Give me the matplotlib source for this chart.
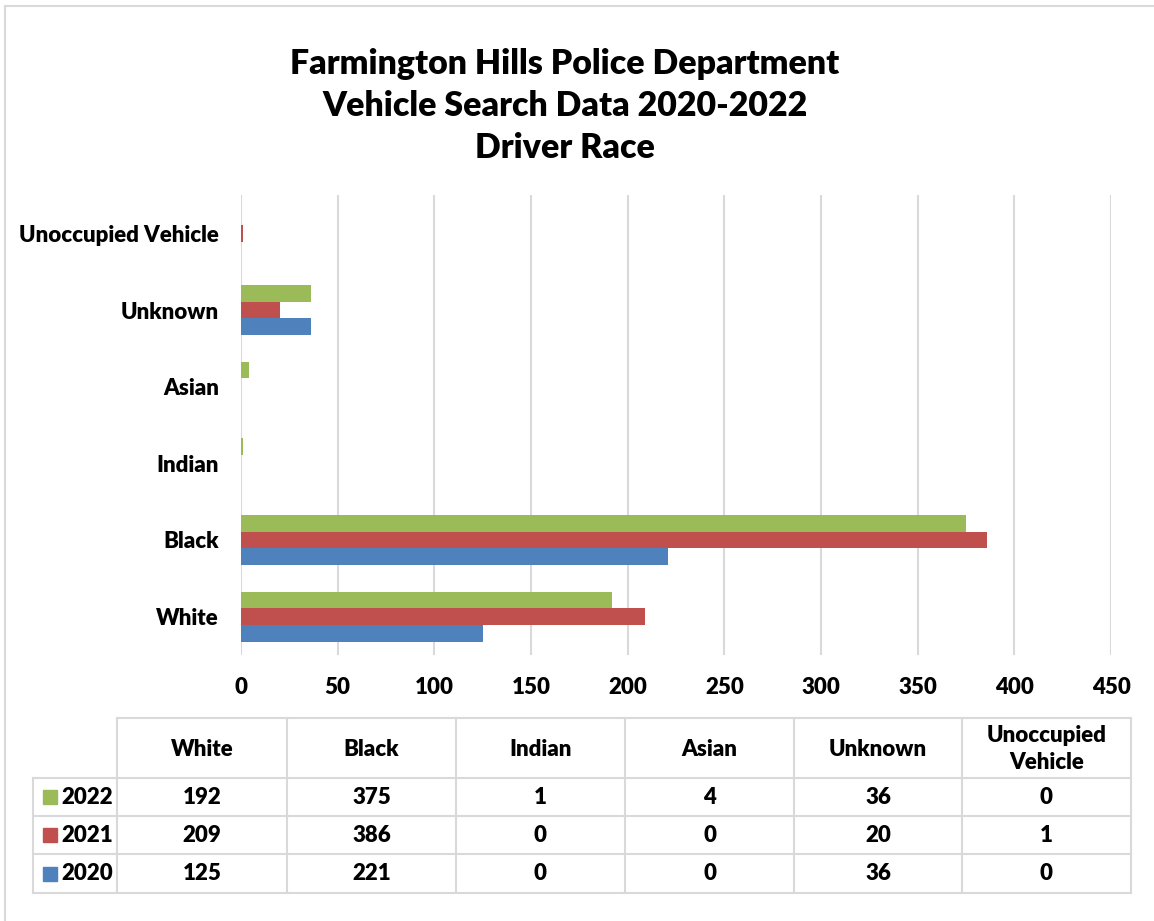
import matplotlib
matplotlib.use("Agg")
import matplotlib.pyplot as plt
from matplotlib.lines import Line2D
from matplotlib.patches import Rectangle
import numpy as np

plt.rcParams['font.family'] = ['Lato', 'DejaVu Sans']
plt.rcParams['font.weight'] = 'heavy'

categories = ["White", "Black", "Indian", "Asian", "Unknown", "Unoccupied Vehicle"]
table_headers = ["White", "Black", "Indian", "Asian", "Unknown", "Unoccupied\nVehicle"]
years = ["2020", "2021", "2022"]
vals_2020 = [125, 221, 0, 0, 36, 0]
vals_2021 = [209, 386, 0, 0, 20, 1]
vals_2022 = [192, 375, 1, 4, 36, 0]
colors = ["#4f81bd", "#c0504d", "#9bbb59"]
x_ticks = np.arange(0, 451, 50)

title = "Farmington Hills Police Department\nVehicle Search Data 2020-2022\nDriver Race"

W, H = 1154, 921
FW = 'heavy'
fig = plt.figure(figsize=(W / 100, H / 100), dpi=100)

# main bar chart
ax = fig.add_axes([241 / W, 1 - 655 / H, (1111 - 241) / W, (655 - 195) / H])
series = [vals_2020, vals_2021, vals_2022]
bh = 0.217
y = np.arange(len(categories))
for i, (vals, col) in enumerate(zip(series, colors)):
    ax.barh(y + (i - 1) * bh, vals, height=bh, color=col, zorder=3)

ax.set_xlim(0, 450)
ax.set_ylim(-0.5, len(categories) - 0.5)
ax.set_xticks(x_ticks)
ax.set_yticks(y)
ax.set_yticklabels(categories, fontweight=FW)
for t in ax.get_xticklabels():
    t.set_fontweight(FW)
ax.tick_params(axis='x', length=0, pad=16, labelsize=16)
ax.tick_params(axis='y', length=0, pad=16, labelsize=16)
for s in ax.spines.values():
    s.set_visible(False)
ax.grid(axis='x', color='#d9d9d9', linewidth=1.5, zorder=0)
ax.set_axisbelow(True)

# overlay in pixel coords for title, border and data table
ov = fig.add_axes([0, 0, 1, 1], zorder=-1)
ov.set_xlim(0, W)
ov.set_ylim(H, 0)
ov.axis('off')

ov.add_line(Line2D([5, 5], [6, H], color='#d9d9d9', lw=1.5))
ov.add_line(Line2D([5, W], [6, 6], color='#d9d9d9', lw=1.5))

ov.text(565, 106, title, ha='center', va='center', fontsize=24.4,
        fontweight=FW, linespacing=1.38)

# data table
col_edges = [33, 117, 287, 456, 625, 794, 962, 1131]
row_edges = [718, 778, 816, 854, 893]
tc = '#d9d9d9'
lw = 1.5
ov.add_line(Line2D([117, 1131], [718, 718], color=tc, lw=lw))
for r in row_edges[1:]:
    ov.add_line(Line2D([33, 1131], [r, r], color=tc, lw=lw))
for j, c in enumerate(col_edges):
    top = 778 if j == 0 else 718
    ov.add_line(Line2D([c, c], [top, 893], color=tc, lw=lw))

for j, hdr in enumerate(table_headers):
    cx = (col_edges[j + 1] + col_edges[j + 2]) / 2
    ov.text(cx, 749, hdr, ha='center', va='center', fontsize=16,
            fontweight=FW, linespacing=1.3)

row_series = [vals_2022, vals_2021, vals_2020]
row_years = years[::-1]
row_colors = colors[::-1]
for i, (vals, yr, col) in enumerate(zip(row_series, row_years, row_colors)):
    cy = (row_edges[i + 1] + row_edges[i + 2]) / 2
    ov.add_patch(Rectangle((43, cy - 7), 14, 14, color=col))
    ov.text(61, cy, yr, ha='left', va='center', fontsize=16, fontweight=FW)
    for j, v in enumerate(vals):
        cx = (col_edges[j + 1] + col_edges[j + 2]) / 2
        ov.text(cx, cy, str(v), ha='center', va='center', fontsize=16,
                fontweight=FW)

fig.savefig("out.png", dpi=100)
